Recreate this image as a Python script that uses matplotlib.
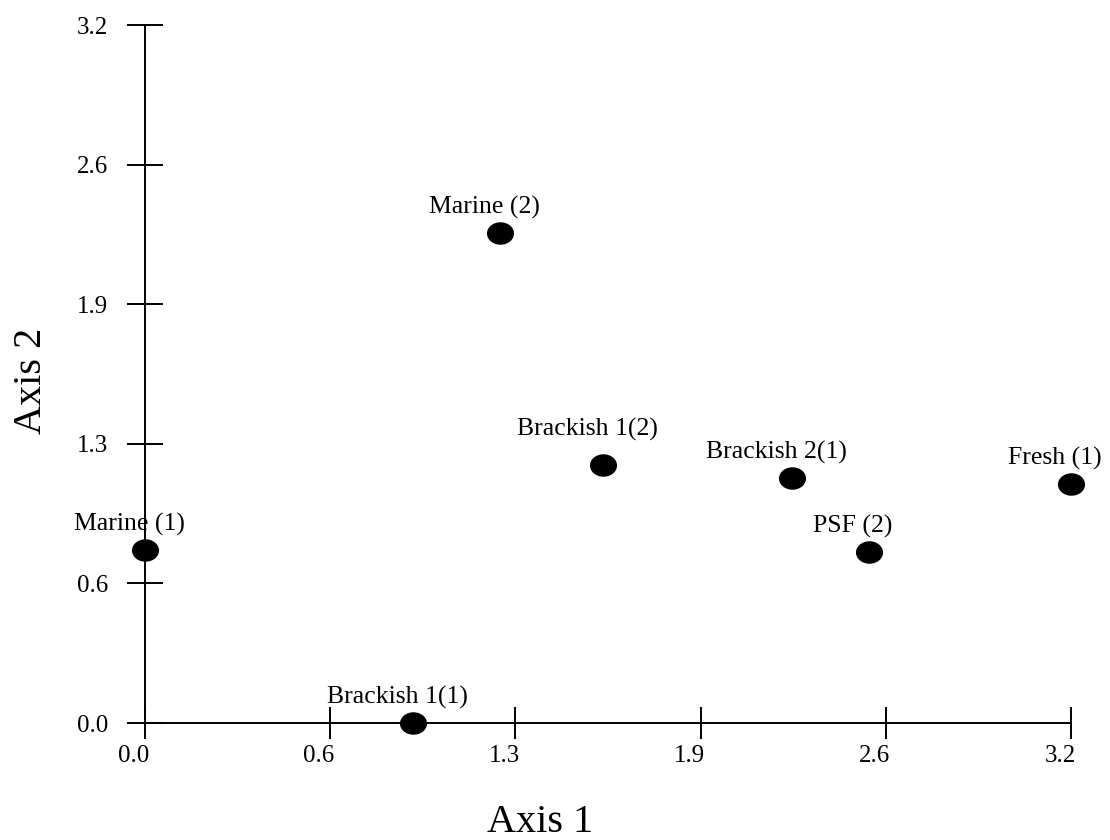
import numpy as np
import matplotlib
matplotlib.use("Agg")
import matplotlib.pyplot as plt
from matplotlib.path import Path
from matplotlib.transforms import Affine2D, ScaledTranslation

# ── Data (ordination scores) ──────────────────────────────────────────────
sites = ["Marine (1)", "Brackish 1(1)", "Marine (2)", "Brackish 1(2)",
         "Brackish 2(1)", "PSF (2)", "Fresh (1)"]
axis1 = [0.0, 0.926, 1.227, 1.583, 2.236, 2.502, 3.2]
axis2 = [0.793, 0.0, 2.247, 1.183, 1.123, 0.784, 1.096]

tick_vals = np.linspace(0, 3.2, 6)

# label nudges in points (dx, dy)
label_nudge = {"Brackish 1(2)": (-11.5, 21.5)}
default_nudge = (-11.5, 13.7)

plt.rcParams["font.family"] = ["Liberation Serif", "DejaVu Serif"]

fig = plt.figure(figsize=(11.1, 8.4), dpi=100, facecolor="white")
ax = fig.add_axes([145 / 1110, 1 - 723 / 840, 926 / 1110, 698 / 840])

# slightly flattened ellipse marker
ellipse = Path.unit_circle().transformed(Affine2D().scale(1.0, 0.82))
ax.plot(axis1, axis2, linestyle="none", marker=ellipse, markersize=18.5,
        color="black", clip_on=False, zorder=3)

for name, x, y in zip(sites, axis1, axis2):
    dx, dy = label_nudge.get(name, default_nudge)
    ax.annotate(name, xy=(x, y), xytext=(dx, dy), textcoords="offset points",
                ha="center", va="baseline", fontsize=18.5, color="black",
                annotation_clip=False)

ax.set_xlim(0, 3.2)
ax.set_ylim(0, 3.2)
for side in ("top", "right"):
    ax.spines[side].set_visible(False)
for side in ("left", "bottom"):
    ax.spines[side].set_linewidth(1.4)

ax.set_xticks(tick_vals)
ax.set_yticks(tick_vals)
ax.set_xticklabels([f"{v:.1f}" for v in tick_vals])
ax.set_yticklabels([f"{v:.1f}" for v in tick_vals])
ax.tick_params(axis="x", direction="inout", length=23, width=1.4,
               pad=4, labelsize=18)
ax.tick_params(axis="y", direction="inout", length=26.6, width=1.4,
               pad=13.5, labelsize=18)

# x tick labels sit a little left of their ticks in the original
shift = ScaledTranslation(-8 / 72, 0, fig.dpi_scale_trans)
for lab in ax.get_xticklabels():
    lab.set_transform(lab.get_transform() + shift)

ax.set_xlabel("Axis 1", fontsize=29)
ax.set_ylabel("Axis 2", fontsize=29)
ax.xaxis.set_label_coords(0.427, -0.142)
ax.yaxis.set_label_coords(-0.123, 0.49)
ax.xaxis.label.set_va("center")
ax.yaxis.label.set_va("center")

fig.savefig("out.png", dpi=100, facecolor="white")
